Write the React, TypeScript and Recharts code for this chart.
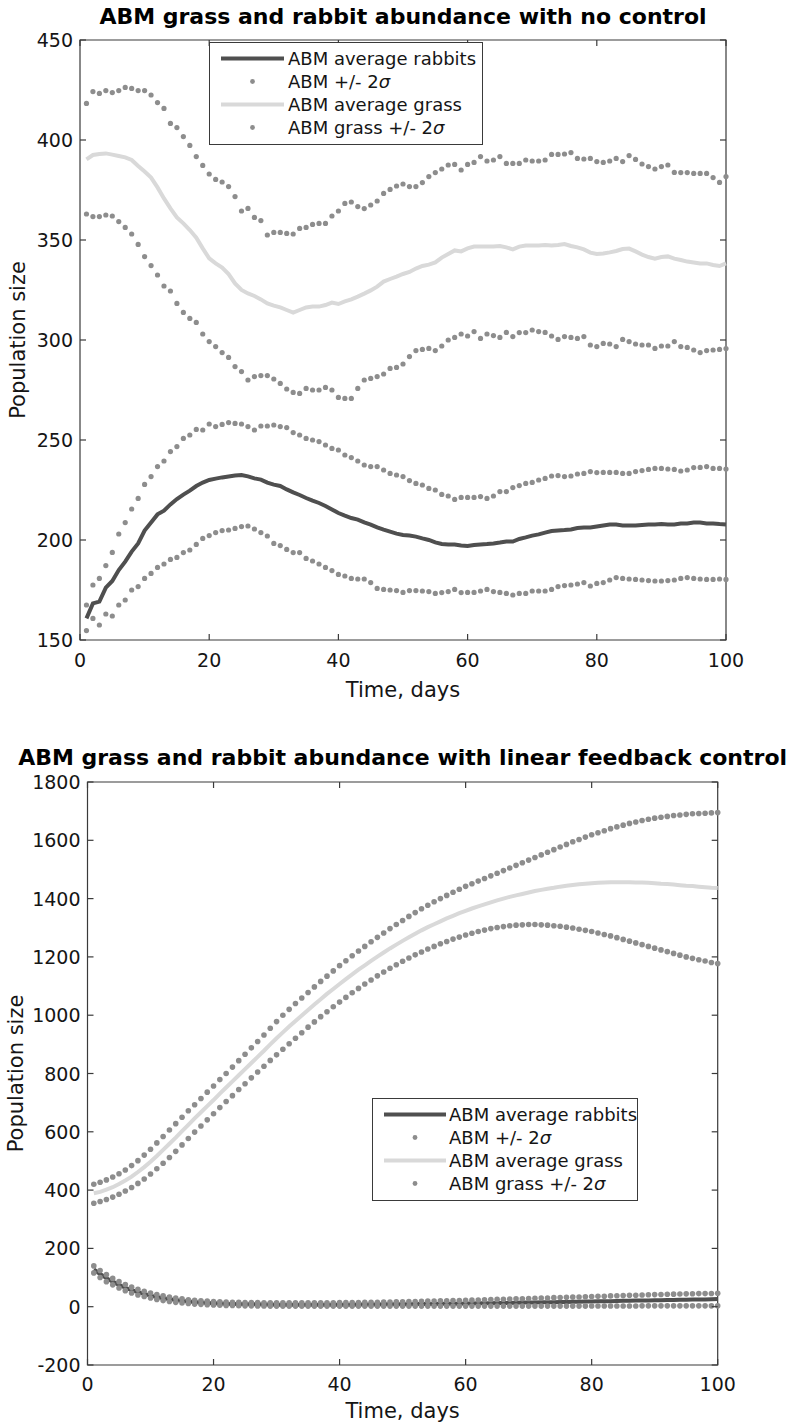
import React from 'react';
import { LineChart, Line, XAxis, YAxis, ReferenceArea, Legend } from 'recharts';

// ---------- shared categories / ticks ----------
const days: number[] = Array.from({ length: 100 }, (_, i) => i + 1);
const xTicks = [0, 20, 40, 60, 80, 100];
const yTicksTop = [150, 200, 250, 300, 350, 400, 450];
const yTicksBottom = [-200, 0, 200, 400, 600, 800, 1000, 1200, 1400, 1600, 1800];

const titleTop = 'ABM grass and rabbit abundance with no control';
const titleBottom = 'ABM grass and rabbit abundance with linear feedback control';
const xLabel = 'Time, days';
const yLabel = 'Population size';
const legendLabels = ['ABM average rabbits', 'ABM +/- 2σ', 'ABM average grass', 'ABM grass +/- 2σ'];

// ---------- top chart: no control ----------
const rabbitMeanTop = [
  160.8, 168.3, 169.2, 176.2, 179.5, 185, 189.2, 194.2, 198.3, 204.7,
  208.8, 212.8, 214.7, 217.8, 220.5, 222.7, 224.7, 227, 228.7, 230,
  230.7, 231.3, 231.8, 232.2, 232.5, 231.8, 230.8, 230.2, 228.7, 227.7,
  227, 225.3, 223.8, 222.5, 221, 219.7, 218.5, 217, 215.3, 213.5,
  212.2, 211, 210.2, 208.8, 207.7, 206.3, 205.2, 204.2, 203.2, 202.5,
  202.2, 201.7, 200.8, 200, 198.8, 198, 197.8, 197.8, 197.3, 197,
  197.5, 197.8, 198, 198.3, 198.7, 199.2, 199.2, 200.5, 201.3, 202.2,
  202.8, 203.7, 204.5, 204.8, 205, 205.3, 206, 206.3, 206.2, 206.7,
  207.2, 207.7, 207.7, 207.3, 207.2, 207.2, 207.5, 207.8, 207.8, 208,
  207.8, 207.8, 208.3, 208.3, 208.7, 208.7, 208.3, 208.3, 208, 207.8,
];
const rabbitUpperTop = [
  167.5, 177.5, 180.8, 187.2, 193.8, 203, 208.7, 215.5, 220.8, 227.8,
  231.7, 236.7, 239.5, 244.2, 246.7, 250.8, 252.5, 255.3, 255, 258,
  256.7, 257.8, 258.7, 258.3, 258, 256.7, 255, 257, 257, 257.5,
  256.7, 256.2, 253.7, 252.5, 250.8, 250, 249.2, 247.5, 245.8, 245,
  242.5, 241.2, 239.5, 237.5, 236.7, 236.7, 235, 233.3, 232.5, 231.7,
  229.7, 228.3, 227.5, 225.8, 225, 222.8, 222, 220.3, 221.3, 221.3,
  221.3, 221.7, 220.8, 222, 224.2, 224.2, 226.2, 227.2, 228.3, 228.8,
  230, 230.8, 232, 232.2, 231.7, 232, 233, 233.3, 234.2, 233.7,
  233.8, 233.8, 233.8, 233.3, 233.3, 234.2, 234.7, 235.3, 235.8, 235.8,
  235.5, 235.3, 234.5, 235, 236.2, 236.3, 236.7, 235.8, 235.8, 235.5,
];
const rabbitLowerTop = [
  154.7, 160.8, 157.5, 163, 162, 167.5, 170, 175, 176.7, 180.8,
  183.3, 186.3, 188, 190.3, 191.3, 193.7, 195, 197.8, 200.8, 202.2,
  203.7, 204.7, 205, 205.8, 206.7, 207, 205.5, 203.7, 202, 198.3,
  197.2, 195.3, 193.7, 193.7, 190.8, 189.5, 188, 186.3, 184.7, 182.8,
  182, 180.8, 180.5, 180.5, 178.7, 175.8, 175.3, 175, 174.7, 173.8,
  174.7, 174.7, 174.5, 174.2, 173.3, 173.7, 174.2, 175.3, 173.7, 173.8,
  173.8, 174.5, 175.3, 174.2, 173.8, 173.3, 172.5, 173.3, 173.3, 174.5,
  174.5, 174.5, 175.3, 176.7, 177.2, 177.5, 178, 178.7, 177, 178.3,
  178.7, 180, 181.2, 180.8, 180.5, 180.3, 180, 179.7, 179.5, 179.5,
  179.7, 180, 180.8, 181.2, 180.8, 180.5, 180.3, 180.3, 180.5, 180.3,
];
const grassMeanTop = [
  390.3, 392.5, 393, 393.3, 392.7, 392, 391.3, 390, 387, 384.2,
  381.2, 376.3, 370.8, 365.8, 361.3, 358.3, 355, 351.2, 345.8, 340.8,
  338.3, 336.2, 333, 328.3, 325, 323.3, 322, 320.3, 318.3, 317.2,
  316.3, 315, 313.7, 315, 316.3, 316.7, 316.7, 317.5, 318.7, 318,
  319.3, 320.3, 321.7, 323.2, 324.8, 326.7, 329.2, 330.5, 331.7, 333,
  334, 335.7, 337, 337.7, 338.8, 341.2, 343, 344.8, 344.3, 345.8,
  346.7, 346.7, 346.7, 346.7, 347, 346.3, 345.3, 346.7, 347.2, 347.2,
  347.2, 347.5, 347.2, 347.5, 348, 347, 346.3, 345.3, 343.7, 343,
  343.3, 343.8, 344.5, 345.5, 345.7, 344.3, 342.7, 341.5, 340.7, 341.5,
  341.8, 340.7, 340, 339.2, 338.8, 338.3, 338.3, 337.5, 337, 338.3,
];
const grassUpperTop = [
  418.3, 424.2, 423.3, 424.7, 423.7, 424.7, 426.3, 425.8, 424.7, 424.7,
  422.5, 418.7, 415.8, 408.3, 406.2, 401.7, 397.3, 391.7, 387.3, 383,
  380.3, 379, 376.7, 371.7, 364.5, 365.8, 361.3, 359.7, 352.5, 353.8,
  353.8, 353.3, 353, 355.8, 356.3, 357.8, 358.3, 358.3, 362, 364.5,
  368.3, 369, 366.7, 365.7, 367.5, 369.5, 373.3, 375.3, 377, 378,
  376.7, 376.7, 378.7, 381.7, 383.7, 385.5, 387.5, 387.8, 385, 387.8,
  388.8, 391.7, 389.5, 390, 391.7, 388.3, 388.3, 388.3, 390, 389.5,
  389.5, 390, 392.8, 392.8, 393, 393.7, 390.8, 390.5, 390.8, 389.2,
  388.8, 389.5, 390.8, 389.2, 392.2, 390.3, 388, 386.7, 385.5, 386.7,
  387.5, 383.8, 383.7, 383.7, 383.3, 383.3, 383.3, 381.2, 378.8, 381.7,
];
const grassLowerTop = [
  363, 361.7, 361.7, 362.5, 362, 359.2, 356.3, 353, 347.8, 341.7,
  337.2, 332.5, 327, 324.5, 318.3, 313.8, 310.8, 308.8, 303, 299.2,
  296.7, 293.7, 291.3, 286.7, 284.2, 280, 281.7, 282.2, 282.2, 280.5,
  278.3, 275.5, 273.8, 273.3, 275.8, 275, 275, 276.3, 275, 271.3,
  270.8, 270.8, 275.8, 280, 280.8, 281.7, 283, 285.8, 286.3, 288,
  291.7, 294.7, 295.3, 295.8, 294.7, 297, 300, 301.3, 303, 302,
  304.2, 300.8, 303, 302.2, 301.3, 303.8, 301.7, 303.7, 303.7, 305,
  304.2, 303.8, 302, 300.3, 301.7, 301.3, 300.8, 301.7, 297.5, 296.7,
  298.3, 298, 296.7, 300.3, 299.2, 298, 297.5, 297.5, 295.8, 297,
  297, 299.2, 296.7, 296.3, 295, 293.7, 294.7, 295, 295.3, 295.7,
];

// ---------- bottom chart: linear feedback control ----------
const rabbitMeanBottom = [
  128, 112, 98, 86, 75, 65, 57, 50, 44, 38,
  33, 29, 26, 23, 20, 18, 16, 14, 13, 12,
  11, 10, 9.5, 9, 8.5, 8, 8, 7.5, 7.5, 7,
  7, 7, 7, 7, 7, 7, 7, 7, 7, 7,
  7, 7, 7.5, 7.5, 7.5, 7.5, 8, 8, 8, 8.5,
  8.5, 9, 9, 9.5, 9.5, 10, 10, 10.5, 10.5, 11,
  11, 11.5, 12, 12, 12.5, 13, 13, 13.5, 14, 14,
  14.5, 15, 15, 15.5, 16, 16.5, 17, 17, 17.5, 18,
  18.5, 19, 19, 19.5, 20, 20.5, 21, 21, 21.5, 22,
  22.5, 23, 23, 23.5, 24, 24.5, 25, 25, 25.5, 26,
];
const rabbitUpperBottom = [
  140, 124, 110, 97, 86, 76, 67, 60, 53, 47,
  42, 37, 33, 30, 27, 24, 22, 20, 19, 18,
  17, 16, 15.5, 15, 14.5, 14, 14, 13.5, 13.5, 13,
  13, 13, 13, 13, 13, 13, 13.5, 13.5, 13.5, 14,
  14, 14.5, 14.5, 15, 15, 15.5, 16, 16, 16.5, 17,
  17.5, 18, 18.5, 19, 19.5, 20, 20.5, 21, 21.5, 22,
  22.5, 23, 24, 24.5, 25, 25.5, 26, 27, 27.5, 28,
  29, 29.5, 30, 31, 31.5, 32, 33, 33.5, 34, 35,
  35.5, 36, 37, 37.5, 38, 39, 39.5, 40, 41, 41.5,
  42, 42.5, 43, 43.5, 44, 44.5, 45, 45, 45.5, 46,
];
const rabbitLowerBottom = [
  116, 100, 86, 75, 64, 55, 47, 40, 35, 30,
  25, 21, 18, 15, 13, 11, 9, 8, 7, 6,
  5, 4.5, 4, 3.5, 3, 3, 2.5, 2.5, 2, 2,
  2, 2, 2, 2, 2, 2, 2, 2, 2, 2,
  2, 2, 2, 2, 2, 2, 2, 2, 2, 2,
  2, 2, 2, 2, 2, 2, 2, 2, 2, 2,
  2, 2, 2, 2, 2, 2, 2, 2, 2, 2,
  2, 2, 2, 2, 2, 2, 2, 2, 2, 2.5,
  2.5, 2.5, 2.5, 2.5, 2.5, 2.5, 2.5, 3, 3, 3,
  3, 3, 3, 3, 3, 3, 3, 3, 3, 3,
];
const grassMeanBottom = [
  389, 394, 402, 410, 421, 433, 446, 462, 479, 497,
  517, 538, 559, 580, 602, 624, 646, 667, 688, 709,
  731, 752, 773, 794, 815, 836, 857, 878, 900, 921,
  941, 961, 980, 999, 1018, 1037, 1055, 1073, 1090, 1107,
  1124, 1140, 1156, 1171, 1186, 1201, 1215, 1229, 1242, 1255,
  1267, 1279, 1291, 1302, 1312, 1322, 1332, 1341, 1350, 1358,
  1366, 1373, 1380, 1387, 1394, 1400, 1406, 1411, 1416, 1421,
  1426, 1430, 1434, 1437, 1441, 1444, 1447, 1449, 1451, 1453,
  1454, 1455, 1456, 1456, 1456, 1456, 1455, 1455, 1454, 1453,
  1451, 1450, 1448, 1446, 1444, 1443, 1441, 1439, 1437, 1436,
];
const grassUpperBottom = [
  420, 427, 435, 445, 456, 469, 484, 501, 520, 540,
  562, 584, 606, 628, 650, 672, 693, 714, 736, 757,
  779, 800, 822, 844, 866, 888, 910, 932, 955, 978,
  1000, 1020, 1040, 1059, 1078, 1097, 1116, 1134, 1152, 1170,
  1187, 1204, 1220, 1236, 1252, 1267, 1282, 1297, 1311, 1325,
  1339, 1352, 1365, 1377, 1389, 1400, 1411, 1422, 1432, 1442,
  1451, 1460, 1469, 1478, 1487, 1496, 1505, 1514, 1523, 1532,
  1541, 1550, 1559, 1568, 1577, 1586, 1595, 1603, 1611, 1619,
  1626, 1633, 1640, 1646, 1652, 1658, 1663, 1668, 1672, 1676,
  1679, 1682, 1685, 1687, 1689, 1691, 1692, 1693, 1694, 1695,
];
const grassLowerBottom = [
  355, 361, 368, 376, 386, 397, 409, 423, 438, 455,
  473, 492, 512, 533, 555, 577, 599, 620, 641, 662,
  683, 704, 724, 745, 765, 785, 805, 825, 845, 864,
  883, 902, 921, 940, 959, 977, 995, 1012, 1029, 1045,
  1061, 1077, 1092, 1107, 1121, 1135, 1148, 1161, 1173, 1185,
  1196, 1207, 1217, 1227, 1236, 1245, 1253, 1261, 1268, 1275,
  1281, 1287, 1292, 1297, 1301, 1304, 1307, 1309, 1310, 1311,
  1311, 1310, 1309, 1307, 1305, 1302, 1299, 1295, 1291, 1287,
  1282, 1277, 1272, 1266, 1260, 1254, 1248, 1242, 1236, 1230,
  1224, 1218, 1212, 1206, 1200, 1195, 1190, 1186, 1181, 1177,
];

// ---------- styling ----------
const FONT = '"DejaVu Sans", Verdana, sans-serif';
const AXIS = '#3a3a3a';
const TEXT = '#151515';
const RABBIT_LINE = '#4f4f4f';
const GRASS_LINE = '#d9d9d9';
const DOT = '#8d8d8d';

type Series = {
  rabbitMean: number[];
  rabbitUpper: number[];
  rabbitLower: number[];
  grassMean: number[];
  grassUpper: number[];
  grassLower: number[];
};

function buildRows(s: Series) {
  return days.map((t, i) => ({
    t,
    rabbitMean: s.rabbitMean[i],
    rabbitUpper: s.rabbitUpper[i],
    rabbitLower: s.rabbitLower[i],
    grassMean: s.grassMean[i],
    grassUpper: s.grassUpper[i],
    grassLower: s.grassLower[i],
  }));
}

const rowsTop = buildRows({
  rabbitMean: rabbitMeanTop,
  rabbitUpper: rabbitUpperTop,
  rabbitLower: rabbitLowerTop,
  grassMean: grassMeanTop,
  grassUpper: grassUpperTop,
  grassLower: grassLowerTop,
});
const rowsBottom = buildRows({
  rabbitMean: rabbitMeanBottom,
  rabbitUpper: rabbitUpperBottom,
  rabbitLower: rabbitLowerBottom,
  grassMean: grassMeanBottom,
  grassUpper: grassUpperBottom,
  grassLower: grassLowerBottom,
});

function makeXTick(plotH: number, labelDy: number) {
  return (props: any) => {
    const { x, y, payload } = props;
    return (
      <g>
        <line x1={x} x2={x} y1={y} y2={y - 6} stroke={AXIS} strokeWidth={1.2} />
        <line x1={x} x2={x} y1={y - plotH} y2={y - plotH + 6} stroke={AXIS} strokeWidth={1.2} />
        <text x={x} y={y + labelDy} textAnchor="middle" fontSize={19} fontFamily={FONT} fill={TEXT}>
          {payload.value}
        </text>
      </g>
    );
  };
}

function makeYTick(plotW: number, labelDx: number) {
  return (props: any) => {
    const { x, y, payload } = props;
    return (
      <g>
        <line x1={x} x2={x + 6} y1={y} y2={y} stroke={AXIS} strokeWidth={1.2} />
        <line x1={x + plotW} x2={x + plotW - 6} y1={y} y2={y} stroke={AXIS} strokeWidth={1.2} />
        <text x={x - labelDx} y={y + 7} textAnchor="end" fontSize={19} fontFamily={FONT} fill={TEXT}>
          {payload.value}
        </text>
      </g>
    );
  };
}

function makeXTitle(dy: number) {
  return (props: any) => {
    const vb = props.viewBox || {};
    return (
      <text x={vb.x + vb.width / 2} y={vb.y + dy} textAnchor="middle" fontSize={21} fontFamily={FONT} fill={TEXT}>
        {xLabel}
      </text>
    );
  };
}

function makeYTitle(dx: number) {
  return (props: any) => {
    const vb = props.viewBox || {};
    const cx = vb.x + vb.width - dx;
    const cy = vb.y + vb.height / 2;
    return (
      <text
        x={cx}
        y={cy}
        transform={`rotate(-90 ${cx} ${cy})`}
        textAnchor="middle"
        fontSize={21}
        fontFamily={FONT}
        fill={TEXT}
      >
        {yLabel}
      </text>
    );
  };
}

function renderLabel(label: string) {
  const idx = label.indexOf('σ');
  if (idx < 0) return label;
  return (
    <>
      {label.slice(0, idx)}
      <i>σ</i>
      {label.slice(idx + 1)}
    </>
  );
}

function makeLegend(width: number, sampleStart: number, sampleEnd: number, textStart: number) {
  const kinds = ['rabbitLine', 'dot', 'grassLine', 'dot'];
  return () => (
    <div
      style={{
        width,
        boxSizing: 'border-box',
        border: `1.2px solid ${AXIS}`,
        background: '#fff',
        padding: '4px 0 5px 0',
        fontFamily: FONT,
        fontSize: 18,
        color: TEXT,
      }}
    >
      {legendLabels.map((lab, i) => (
        <div key={lab} style={{ display: 'flex', alignItems: 'center', height: 23, whiteSpace: 'nowrap' }}>
          <svg width={textStart} height={23} style={{ flex: 'none' }}>
            {kinds[i] === 'dot' ? (
              <circle cx={(sampleStart + sampleEnd) / 2} cy={11.5} r={2.4} fill={DOT} />
            ) : (
              <line
                x1={sampleStart}
                x2={sampleEnd}
                y1={11.5}
                y2={11.5}
                stroke={kinds[i] === 'rabbitLine' ? RABBIT_LINE : GRASS_LINE}
                strokeWidth={4}
              />
            )}
          </svg>
          <span style={{ lineHeight: '23px' }}>{renderLabel(lab)}</span>
        </div>
      ))}
    </div>
  );
}

type PanelProps = {
  rows: any[];
  width: number;
  height: number;
  margin: { top: number; right: number; bottom: number; left: number };
  yAxisWidth: number;
  xAxisHeight: number;
  yDomain: [number, number];
  yTicks: number[];
  legendPos: { left: number; top: number };
  legendWidth: number;
  legendSample: [number, number, number];
  xLabelDy: number;
  xTitleDy: number;
  yTitleDx: number;
  dotR: number;
};

function Panel(p: PanelProps) {
  const plotW = p.width - p.margin.left - p.margin.right - p.yAxisWidth;
  const plotH = p.height - p.margin.top - p.margin.bottom - p.xAxisHeight;
  const dot = { r: p.dotR, fill: DOT, stroke: 'none', strokeWidth: 0 };
  return (
    <LineChart width={p.width} height={p.height} data={p.rows} margin={p.margin}>
      <XAxis
        dataKey="t"
        type="number"
        domain={[0, 100]}
        ticks={xTicks}
        interval={0}
        height={p.xAxisHeight}
        axisLine={false}
        tickLine={false}
        tickSize={0}
        tickMargin={0}
        tick={makeXTick(plotH, p.xLabelDy)}
        label={makeXTitle(p.xTitleDy)}
      />
      <YAxis
        type="number"
        domain={p.yDomain}
        ticks={p.yTicks}
        interval={0}
        width={p.yAxisWidth}
        axisLine={false}
        tickLine={false}
        tickSize={0}
        tickMargin={0}
        tick={makeYTick(plotW, 7)}
        label={makeYTitle(p.yTitleDx)}
      />
      <ReferenceArea
        x1={0}
        x2={100}
        y1={p.yDomain[0]}
        y2={p.yDomain[1]}
        fill="none"
        fillOpacity={0}
        stroke={AXIS}
        strokeWidth={1.2}
      />
      <Line dataKey="grassMean" stroke={GRASS_LINE} strokeWidth={4} dot={false} activeDot={false} isAnimationActive={false} />
      <Line dataKey="grassUpper" stroke="none" dot={dot} activeDot={false} isAnimationActive={false} />
      <Line dataKey="grassLower" stroke="none" dot={dot} activeDot={false} isAnimationActive={false} />
      <Line dataKey="rabbitUpper" stroke="none" dot={dot} activeDot={false} isAnimationActive={false} />
      <Line dataKey="rabbitLower" stroke="none" dot={dot} activeDot={false} isAnimationActive={false} />
      <Line dataKey="rabbitMean" stroke={RABBIT_LINE} strokeWidth={4} dot={false} activeDot={false} isAnimationActive={false} />
      <Legend
        layout="horizontal"
        verticalAlign="middle"
        align="center"
        wrapperStyle={{ left: p.legendPos.left, top: p.legendPos.top, width: p.legendWidth, bottom: 'auto', right: 'auto' }}
        content={makeLegend(p.legendWidth, p.legendSample[0], p.legendSample[1], p.legendSample[2])}
      />
    </LineChart>
  );
}

function Title({ text, x, y }: { text: string; x: number; y: number }) {
  return (
    <svg width={786} height={40} style={{ position: 'absolute', left: 0, top: y - 30 }}>
      <text x={x} y={30} textAnchor="middle" fontSize={22} fontWeight="bold" fontFamily={FONT} fill="#000">
        {text}
      </text>
    </svg>
  );
}

export default function App() {
  return (
    <div style={{ position: 'absolute', left: 0, top: 0, width: 786, height: 1427, background: '#fff', overflow: 'hidden' }}>
      <div style={{ position: 'absolute', left: 0, top: 0 }}>
        <Panel
          rows={rowsTop}
          width={786}
          height={712}
          margin={{ top: 40, right: 60, bottom: 12, left: 20 }}
          yAxisWidth={60}
          xAxisHeight={60}
          yDomain={[150, 450]}
          yTicks={yTicksTop}
          legendPos={{ left: 209, top: 42 }}
          legendWidth={274}
          legendSample={[11, 74, 78]}
          xLabelDy={27}
          xTitleDy={57}
          yTitleDx={55}
          dotR={2.6}
        />
      </div>
      <div style={{ position: 'absolute', left: 0, top: 740 }}>
        <Panel
          rows={rowsBottom}
          width={786}
          height={687}
          margin={{ top: 42, right: 68.3, bottom: 0, left: 27.5 }}
          yAxisWidth={60}
          xAxisHeight={62}
          yDomain={[-200, 1800]}
          yTicks={yTicksBottom}
          legendPos={{ left: 372, top: 358 }}
          legendWidth={266}
          legendSample={[11, 73, 76]}
          xLabelDy={26}
          xTitleDy={53}
          yTitleDx={65}
          dotR={2.8}
        />
      </div>
      <Title text={titleTop} x={403} y={24} />
      <Title text={titleBottom} x={402.6} y={765} />
    </div>
  );
}
